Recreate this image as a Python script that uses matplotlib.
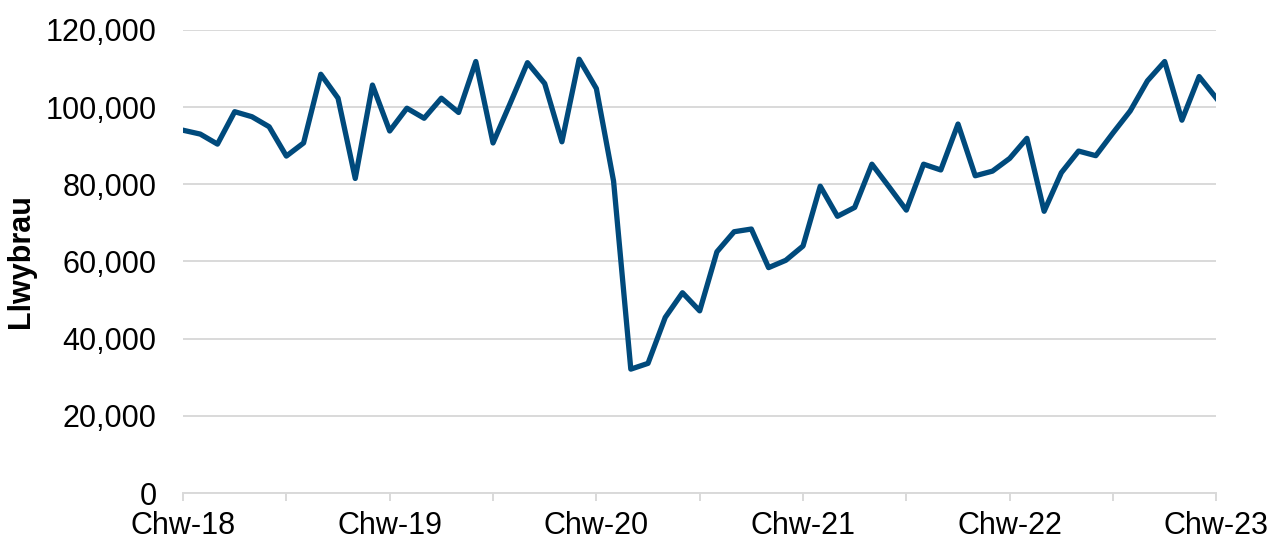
import numpy as np
import matplotlib.pyplot as plt

# Data: monthly values, Feb 2018 .. Feb 2023

values_k = [94.0, 93.0, 90.4, 98.8, 97.5, 94.9, 87.3, 90.7, 108.5, 102.3,
            81.5, 105.7, 93.8, 99.7, 97.1, 102.3, 98.6, 111.8, 90.7, 101.0,
            111.5, 106.1, 91.0, 112.4, 104.8,
            80.8, 32.1, 33.6, 45.5, 51.9, 47.2, 62.5, 67.7, 68.4, 58.4,
            60.3, 64.0, 79.5, 71.7, 74.0, 85.2, 79.3, 73.3, 85.2, 83.7,
            95.6, 82.2, 83.4, 86.7, 91.9, 73.0, 83.0, 88.6, 87.4, 93.3,
            99.0, 106.8, 111.8, 96.6, 107.9, 102.3]

values = np.array(values_k) * 1000
months = np.arange(len(values))

tick_pos = np.arange(0, 61, 6)
tick_labels = ["Chw-18", "", "Chw-19", "", "Chw-20", "", "Chw-21", "",
               "Chw-22", "", "Chw-23"]

plt.rcParams['font.family'] = ['Liberation Sans', 'DejaVu Sans']

fig = plt.figure(figsize=(12.71, 5.43), dpi=100)
ax = fig.add_axes([0.144, 0.092, 0.813, 0.853])

ax.plot(months, values, color='#004A7C', linewidth=3.8, zorder=3)

# Axes
ax.set_xlim(0, 60)
ax.set_ylim(0, 120000)
ax.set_yticks(np.arange(0, 120001, 20000))
ax.set_yticklabels([f"{v:,}" for v in range(0, 120001, 20000)])
ax.set_xticks(tick_pos)
ax.set_xticklabels(tick_labels)

ax.grid(axis='y', color='#d9d9d9', linewidth=1.4, zorder=0)
for s in ['top', 'right', 'left']:
    ax.spines[s].set_visible(False)
ax.spines['bottom'].set_color('#d9d9d9')
ax.spines['bottom'].set_linewidth(1.4)

ax.tick_params(axis='y', length=0, pad=19, labelsize=22, colors='black')
ax.tick_params(axis='x', length=6, width=1.4, color='#d9d9d9', pad=7,
               labelsize=22, labelcolor='black')

ax.set_ylabel("Llwybrau", fontsize=22, fontweight='bold')
ax.yaxis.set_label_coords(-0.142, 0.5)

fig.savefig("out.png", dpi=100)
